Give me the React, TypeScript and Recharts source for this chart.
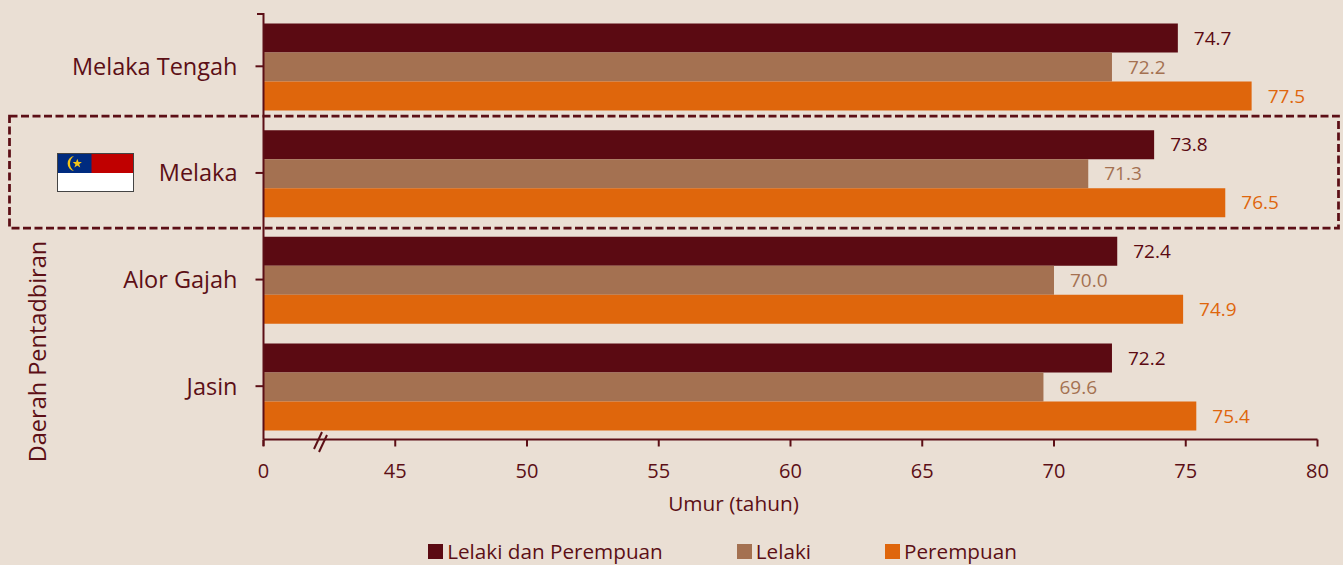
import { BarChart, Bar, XAxis, YAxis, LabelList, Legend } from "recharts";

const districts = ["Melaka Tengah", "Melaka", "Alor Gajah", "Jasin"];
const both = [74.7, 73.8, 72.4, 72.2];
const male = [72.2, 71.3, 70.0, 69.6];
const female = [77.5, 76.5, 74.9, 75.4];
const xTicks = [40, 45, 50, 55, 60, 65, 70, 75, 80];

const BG = "#EADFD4";
const INK = "#5C0F16";
const DARK = "#5B0A12";
const TAN = "#A47151";
const ORANGE = "#DF660C";
const FONT = "'Open Sans', sans-serif";

const rows = districts.map((name, i) => ({
  name,
  both: both[i],
  male: male[i],
  female: female[i],
}));

const legendItems = [
  { label: "Lelaki dan Perempuan", color: DARK },
  { label: "Lelaki", color: TAN },
  { label: "Perempuan", color: ORANGE },
];

function ChartLegend() {
  return (
    <div style={{ display: "flex", justifyContent: "center", gap: 74, fontFamily: FONT, fontSize: 20.7, color: INK, lineHeight: "21px" }}>
      {legendItems.map((item) => (
        <div key={item.label} style={{ display: "flex", alignItems: "center", whiteSpace: "nowrap" }}>
          <span style={{ width: 15, height: 15, background: item.color, marginRight: 4 }} />
          {item.label}
        </div>
      ))}
    </div>
  );
}

// annotations on top of the chart: highlight box, flag, axis break, top cap
function Overlay() {
  return (
    <svg width={1343} height={565} style={{ position: "absolute", left: 0, top: 0, pointerEvents: "none" }}>
      <rect x={9.5} y={116} width={1329} height={112} fill="none" stroke={INK} strokeWidth={2.75} strokeDasharray="8 3.5" />
      <line x1={257} x2={263} y1={14} y2={14} stroke={INK} strokeWidth={2} />
      <line x1={263.5} x2={263.5} y1={440} y2={446} stroke={INK} strokeWidth={2} />
      <line x1={314} x2={322} y1={449} y2={432} stroke={INK} strokeWidth={2} />
      <line x1={319} x2={327} y1={452} y2={435} stroke={INK} strokeWidth={2} />
      <rect x={57.5} y={153.5} width={76} height={38} fill="#fff" stroke="#444" strokeWidth={1} />
      <rect x={58} y={154} width={75} height={19} fill="#C00000" />
      <rect x={58} y={154} width={33.5} height={19} fill="#002B7F" />
      <path d="M74 156 A7.6 7.6 0 0 0 74 171 A9 9 0 0 1 74 156 Z" fill="#F5C518" />
      <polygon
        points="77.3,158.8 78.5,162 81.9,162 79.2,164.2 80.2,167.5 77.3,165.6 74.4,167.5 75.4,164.2 72.7,162 76.1,162"
        fill="#F5C518"
      />
    </svg>
  );
}

export default function App() {
  return (
    <div style={{ position: "fixed", left: 0, top: 0, width: 1343, height: 565, background: BG, overflow: "hidden" }}>
      <BarChart
        width={1343}
        height={565}
        data={rows}
        layout="vertical"
        barCategoryGap={10.5}
        barGap={0}
        margin={{ top: 13, right: 25.5, bottom: 74.5, left: 0 }}
      >
        <XAxis
          type="number"
          domain={[40, 80]}
          ticks={xTicks}
          allowDataOverflow
          tickFormatter={(v: number) => (v === 40 ? "0" : String(v))}
          stroke={INK}
          strokeWidth={2}
          tickSize={7}
          tickMargin={17.5}
          tick={{ fill: INK, fontSize: 20, fontFamily: FONT }}
          label={{ value: "Umur (tahun)", position: "insideBottom", offset: -41, dx: -57, fill: INK, fontSize: 20.8, fontFamily: FONT }}
          interval={0}
        />
        <YAxis
          type="category"
          dataKey="name"
          width={263.5}
          stroke={INK}
          strokeWidth={2}
          tickSize={8}
          tickMargin={18}
          tick={{ fill: INK, fontSize: 23.5, fontFamily: FONT }}
          label={{ value: "Daerah Pentadbiran", angle: -90, position: "insideLeft", dx: 33, dy: 236, fill: INK, fontSize: 23.5, fontFamily: FONT }}
        />
        <Legend content={<ChartLegend />} wrapperStyle={{ left: 100, width: 1245, top: 541 }} />
        <Bar dataKey="both" name="Lelaki dan Perempuan" fill={DARK} isAnimationActive={false}>
          <LabelList dataKey="both" position="right" offset={16} fill={DARK} fontSize={19} fontFamily={FONT} formatter={(v: number) => v.toFixed(1)} />
        </Bar>
        <Bar dataKey="male" name="Lelaki" fill={TAN} isAnimationActive={false}>
          <LabelList dataKey="male" position="right" offset={16} fill={TAN} fontSize={19} fontFamily={FONT} formatter={(v: number) => v.toFixed(1)} />
        </Bar>
        <Bar dataKey="female" name="Perempuan" fill={ORANGE} isAnimationActive={false}>
          <LabelList dataKey="female" position="right" offset={16} fill={ORANGE} fontSize={19} fontFamily={FONT} formatter={(v: number) => v.toFixed(1)} />
        </Bar>
      </BarChart>
      <Overlay />
    </div>
  );
}
